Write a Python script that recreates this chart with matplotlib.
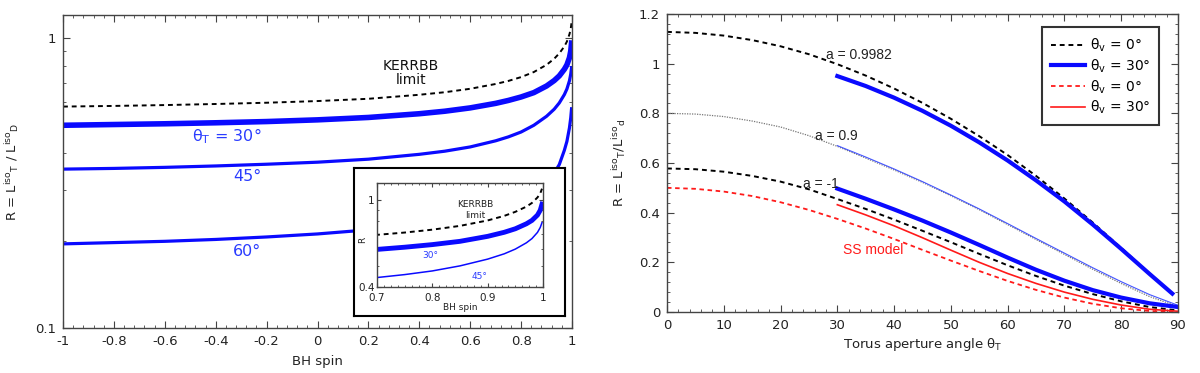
import matplotlib
matplotlib.use("Agg")
import matplotlib.pyplot as plt
from matplotlib.ticker import FixedLocator, MultipleLocator, NullFormatter, FuncFormatter

plt.rcParams['font.family'] = ['DejaVu Sans']
plt.rcParams['axes.unicode_minus'] = False
plt.rcParams['mathtext.fontset'] = 'dejavusans'

# --- left panel data: R vs BH spin (log scale) ---
spin = [-1, -0.8, -0.6, -0.4, -0.2, 0, 0.2, 0.4, 0.5, 0.6, 0.7, 0.75, 0.8, 0.85,
        0.9, 0.93, 0.95, 0.97, 0.98, 0.99, 0.995, 0.9982]
r_kerrbb = [0.580, 0.583, 0.587, 0.592, 0.598, 0.606, 0.617, 0.637, 0.650, 0.668, 0.694, 0.711,
            0.733, 0.763, 0.808, 0.848, 0.885, 0.935, 0.972, 1.030, 1.075, 1.130]
r_t30 = [0.500, 0.503, 0.506, 0.510, 0.515, 0.522, 0.532, 0.548, 0.559, 0.574, 0.595, 0.609,
         0.626, 0.648, 0.683, 0.713, 0.740, 0.780, 0.808, 0.855, 0.900, 0.960]
r_t45 = [0.353, 0.355, 0.358, 0.362, 0.367, 0.373, 0.382, 0.397, 0.407, 0.421, 0.442, 0.456,
         0.474, 0.500, 0.537, 0.568, 0.597, 0.638, 0.667, 0.712, 0.750, 0.790]
r_t60 = [0.195, 0.197, 0.199, 0.202, 0.206, 0.211, 0.218, 0.228, 0.235, 0.244, 0.257, 0.266,
         0.278, 0.294, 0.318, 0.342, 0.366, 0.410, 0.440, 0.490, 0.530, 0.570]

spin_ticks = [-1, -0.8, -0.6, -0.4, -0.2, 0, 0.2, 0.4, 0.6, 0.8, 1]
spin_labels = ['-1', '-0.8', '-0.6', '-0.4', '-0.2', '0', '0.2', '0.4', '0.6', '0.8', '1']
inset_ticks = [0.7, 0.8, 0.9, 1]
inset_labels = ['0.7', '0.8', '0.9', '1']

# --- right panel data: R vs torus aperture angle ---
theta_v0 = [0, 5, 10, 15, 20, 25, 30, 35, 40, 45, 50, 55, 60, 65, 70, 75, 80, 85, 90]
theta_v0_max = [0, 5, 10, 15, 20, 25, 30, 35, 40, 45, 50, 55, 60, 65, 70, 75, 80, 85, 89]
theta_v30 = [30, 35, 40, 45, 50, 55, 60, 65, 70, 75, 80, 85, 90]
theta_v30_max = [30, 35, 40, 45, 50, 55, 60, 65, 70, 75, 80, 85, 89]

a09982_v0 = [1.128, 1.124, 1.113, 1.095, 1.070, 1.038, 0.998, 0.952, 0.900, 0.842, 0.778, 0.708,
             0.632, 0.548, 0.457, 0.360, 0.258, 0.155, 0.074]
a09982_v30 = [0.950, 0.910, 0.863, 0.810, 0.750, 0.683, 0.610, 0.530, 0.445, 0.352, 0.254, 0.153, 0.074]
a09_v0 = [0.800, 0.797, 0.787, 0.769, 0.745, 0.710, 0.667, 0.620, 0.572, 0.522, 0.468, 0.412,
          0.352, 0.292, 0.232, 0.172, 0.115, 0.062, 0.022]
a09_v30 = [0.670, 0.624, 0.576, 0.525, 0.471, 0.415, 0.356, 0.296, 0.237, 0.178, 0.122, 0.070, 0.027]
am1_v0 = [0.578, 0.575, 0.565, 0.548, 0.525, 0.494, 0.455, 0.415, 0.372, 0.327, 0.281, 0.234,
          0.188, 0.145, 0.106, 0.072, 0.043, 0.020, 0.006]
am1_v30 = [0.497, 0.456, 0.413, 0.368, 0.320, 0.270, 0.219, 0.170, 0.126, 0.088, 0.058, 0.035, 0.020]
ss_v0 = [0.500, 0.496, 0.485, 0.467, 0.442, 0.411, 0.375, 0.336, 0.294, 0.250, 0.207, 0.165,
         0.125, 0.089, 0.058, 0.033, 0.015, 0.004, 0.000]
ss_v30 = [0.432, 0.391, 0.347, 0.299, 0.249, 0.200, 0.155, 0.115, 0.080, 0.051, 0.028, 0.011, 0.003]

BLUE = '#0a0aff'
BLUE_TXT = '#2a3cff'
RED = '#ff1a1a'
SPINE = '#444444'

fig = plt.figure(figsize=(12, 3.73), dpi=100)


def style_axes(ax, size=9):
    for s in ax.spines.values():
        s.set_color(SPINE)
        s.set_linewidth(1.0)
    ax.tick_params(which='both', direction='in', top=True, right=True,
                   colors=SPINE, labelcolor='#222222', labelsize=size)
    ax.tick_params(which='major', length=5, pad=5)
    ax.tick_params(which='minor', length=2.5)


# ================= left panel =================
ax1 = fig.add_axes([63 / 1200, 45 / 373, 509 / 1200, 313 / 373])
ax1.plot(spin, r_kerrbb, color='black', lw=1.4, dashes=(2.5, 2))
ax1.plot(spin, r_t30, color=BLUE, lw=4.0)
ax1.plot(spin, r_t45, color=BLUE, lw=2.3)
ax1.plot(spin, r_t60, color=BLUE, lw=2.3)
ax1.set_yscale('log')
ax1.set_xlim(-1, 1)
ax1.set_ylim(0.1, 1.2)
ax1.xaxis.set_major_locator(FixedLocator(spin_ticks))
ax1.set_xticklabels(spin_labels)
ax1.xaxis.set_minor_locator(MultipleLocator(0.04))
ax1.yaxis.set_major_locator(FixedLocator([0.1, 1]))
ax1.set_yticklabels(['0.1', '1'])
ax1.yaxis.set_minor_locator(FixedLocator([0.2, 0.3, 0.4, 0.5, 0.6, 0.7, 0.8, 0.9]))
ax1.yaxis.set_minor_formatter(NullFormatter())
style_axes(ax1, 9.5)
ax1.set_xlabel('BH spin', fontsize=9.5, color='#222222', labelpad=5)
ax1.set_ylabel(r'R = L$^{\rm iso}$$_{\rm T}$ / L$^{\rm iso}$$_{\rm D}$', fontsize=9.5,
               color='#222222', labelpad=10)

ax1.text(0.367, 0.757, 'KERRBB\nlimit', ha='center', va='center', fontsize=10,
         linespacing=1.05, color='#111111')
ax1.text(-0.355, 0.460, r'θ$_{\rm T}$ = 30°', ha='center', va='center', fontsize=11.5, color=BLUE_TXT)
ax1.text(-0.276, 0.332, '45°', ha='center', va='center', fontsize=11.5, color=BLUE_TXT)
ax1.text(-0.278, 0.183, '60°', ha='center', va='center', fontsize=11.5, color=BLUE_TXT)

# inset frame (white box covering the curves)
frame = fig.add_axes([354 / 1200, (373 - 316) / 373, 211 / 1200, 148 / 373])
frame.set_xticks([])
frame.set_yticks([])
for s in frame.spines.values():
    s.set_linewidth(1.5)
    s.set_color('black')

# inset zoom on high spin
ins = fig.add_axes([377 / 1200, (373 - 287) / 373, 166 / 1200, 104 / 373])
ins.plot(spin, r_kerrbb, color='black', lw=1.4, dashes=(2.5, 2))
ins.plot(spin, r_t30, color=BLUE, lw=3.5)
ins.plot(spin, r_t45, color=BLUE, lw=1.1)
ins.set_yscale('log')
ins.set_xlim(0.7, 1)
ins.set_ylim(0.4, 1.2)
ins.xaxis.set_major_locator(FixedLocator(inset_ticks))
ins.set_xticklabels(inset_labels)
ins.xaxis.set_minor_locator(MultipleLocator(0.0125))
ins.yaxis.set_major_locator(FixedLocator([0.4, 1]))
ins.set_yticklabels(['0.4', '1'])
ins.yaxis.set_minor_locator(FixedLocator([0.5, 0.6, 0.7, 0.8, 0.9]))
ins.yaxis.set_minor_formatter(NullFormatter())
style_axes(ins, 7.5)
ins.tick_params(which='major', length=3)
ins.tick_params(axis='x', which='major', pad=4)
ins.tick_params(axis='y', which='major', pad=1.5)
ins.tick_params(which='minor', length=1.5)
ins.set_xlabel('BH spin', fontsize=6.5, labelpad=0, color='#222222')
ins.set_ylabel('R', fontsize=6.5, color='#222222')
ins.yaxis.set_label_coords(-0.06, 0.45)
ins.text(0.877, 0.905, 'KERRBB\nlimit', ha='center', va='center', fontsize=6.5,
         linespacing=1.25, color='#222222')
ins.text(0.797, 0.556, '30°', ha='center', va='center', fontsize=6.5, color=BLUE_TXT)
ins.text(0.886, 0.449, '45°', ha='center', va='center', fontsize=6.5, color=BLUE_TXT)

# ================= right panel =================
ax2 = fig.add_axes([667 / 1200, (373 - 312) / 373, 511 / 1200, 298 / 373])
l1, = ax2.plot(theta_v0_max, a09982_v0, color='black', lw=1.4, dashes=(2.5, 2), label=r'θ$_{\rm v}$ = 0°')
l2, = ax2.plot(theta_v30_max, a09982_v30, color=BLUE, lw=3.0, label=r'θ$_{\rm v}$ = 30°')
ax2.plot(theta_v0, a09_v0, color='#777777', lw=0.9, ls=(0, (1, 1)))
ax2.plot(theta_v30, a09_v30, color='#4455ff', lw=0.8)
ax2.plot(theta_v0, am1_v0, color='black', lw=1.4, dashes=(2.5, 2))
ax2.plot(theta_v30, am1_v30, color=BLUE, lw=3.0)
l3, = ax2.plot(theta_v0, ss_v0, color=RED, lw=1.3, dashes=(2.5, 2), label=r'θ$_{\rm v}$ = 0°')
l4, = ax2.plot(theta_v30, ss_v30, color=RED, lw=1.2, label=r'θ$_{\rm v}$ = 30°')
ax2.set_xlim(0, 90)
ax2.set_ylim(0, 1.2)
ax2.xaxis.set_major_locator(MultipleLocator(10))
ax2.xaxis.set_minor_locator(MultipleLocator(2))
ax2.yaxis.set_major_locator(MultipleLocator(0.2))
ax2.yaxis.set_minor_locator(MultipleLocator(0.04))
ax2.yaxis.set_major_formatter(FuncFormatter(lambda v, p: '%g' % round(v, 2)))
style_axes(ax2, 9.5)
ax2.set_xlabel(r'Torus aperture angle θ$_{\rm T}$', fontsize=9.5, color='#222222', labelpad=3)
ax2.set_ylabel(r'R = L$^{\rm iso}$$_{\rm T}$/L$^{\rm iso}$$_{\rm d}$', fontsize=9.5,
               color='#222222', labelpad=8)

ann = dict(ha='center', va='center', fontsize=10, family=['Liberation Sans', 'DejaVu Sans'])
ax2.text(33.8, 1.035, 'a = 0.9982', color='#222222', **ann)
ax2.text(29.8, 0.708, 'a = 0.9', color='#222222', **ann)
ax2.text(27.1, 0.515, 'a = -1', color='#222222', **ann)
ax2.text(36.3, 0.250, 'SS model', color=RED, **ann)

leg = ax2.legend(handles=[l1, l2, l3, l4], loc='upper right', bbox_to_anchor=(0.963, 0.955),
                 fontsize=10, frameon=True, fancybox=False, handlelength=2.5,
                 labelspacing=0.25, borderpad=0.65, handletextpad=0.3, borderaxespad=0)
leg.get_frame().set_edgecolor('black')
leg.get_frame().set_linewidth(1.5)

fig.savefig('out.png', dpi=100)
